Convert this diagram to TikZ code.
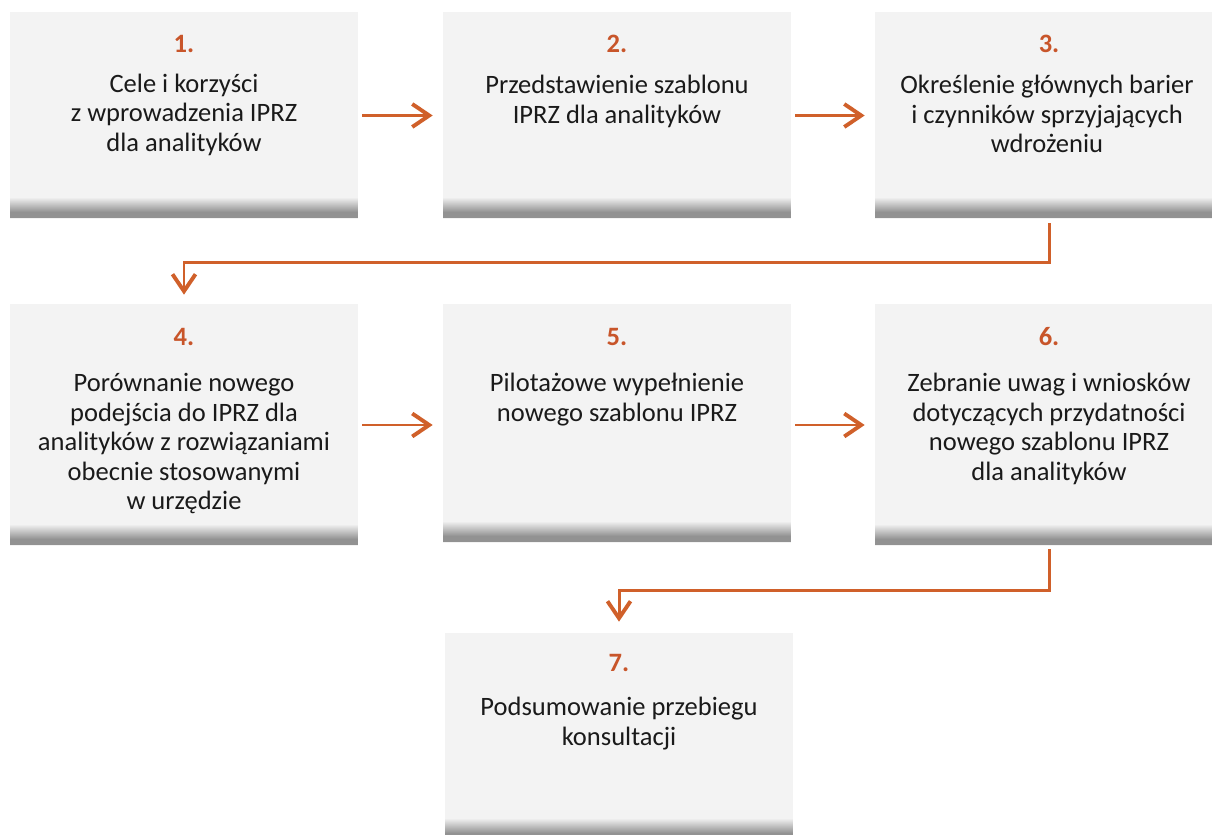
\documentclass[tikz,border=0pt]{standalone}
\usepackage{fontspec}
\setmainfont{Carlito}
\usetikzlibrary{arrows.meta}
\definecolor{boxbg}{HTML}{F3F3F3}
\definecolor{shadowgray}{HTML}{929292}
\definecolor{accent}{HTML}{D0602A}
\definecolor{numcol}{HTML}{C8552A}
\definecolor{txt}{HTML}{1A1A1A}
\begin{document}
\begin{tikzpicture}[x=0.02cm,y=-0.02cm,
  stepbox/.style={rectangle, fill=boxbg, inner sep=0pt, minimum width=6.96cm,
    path picture={
      \foreach \i in {0,...,13}{
        \pgfmathsetmacro{\pct}{100*(\i+1)/15}
        \fill[shadowgray!\pct!boxbg]
          ([yshift=0.42cm-\i*0.02cm]path picture bounding box.south west) rectangle
          ([yshift=0.40cm-\i*0.02cm]path picture bounding box.south east);
      }
      \fill[shadowgray]
        ([yshift=0.1401cm]path picture bounding box.south west) rectangle
        ([yshift=0.02cm]path picture bounding box.south east);
    }},
  numlabel/.style={anchor=base, inner sep=0pt, text=numcol,
    font=\fontsize{15.1}{16.8}\selectfont\bfseries},
  bodytext/.style={anchor=north, align=center, inner sep=0pt, text=txt,
    font=\fontsize{15.1}{16.8}\selectfont},
  arr/.style={draw=accent, line width=1.7pt,
    -{Straight Barb[length=0.34cm, width=0.46cm, line width=2.2pt]}}
]
\useasboundingbox (0,0) rectangle (1212,834);
\fill[white] (0,0) rectangle (1212,834);

% boxes
\node[stepbox, minimum height=4.14cm] (b1) at (184,115.5) {};
\node[stepbox, minimum height=4.14cm] (b2) at (617,115.5) {};
\node[stepbox, minimum height=4.14cm] (b3) at (1049,115.5) {};
\node[stepbox, minimum height=4.84cm] (b4) at (184,425) {};
\node[stepbox, minimum height=4.78cm] (b5) at (617,423.5) {};
\node[stepbox, minimum height=4.84cm] (b6) at (1049,425) {};
\node[stepbox, minimum height=4.14cm] (b7) at (619,736.5) {};

% numbers
\node[numlabel] (n1) at (184,53) {1.};
\node[numlabel] (n2) at (617,53) {2.};
\node[numlabel] (n3) at (1049,53) {3.};
\node[numlabel] (n4) at (184,345) {4.};
\node[numlabel] (n5) at (617,345) {5.};
\node[numlabel] (n6) at (1049,345) {6.};
\node[numlabel] (n7) at (619,671) {7.};

% texts
\node[bodytext] (t1) at (184,73.5) {Cele i korzyści\\z wprowadzenia IPRZ\\dla analityków};
\node[bodytext] (t2) at (617,75) {Przedstawienie szablonu\\IPRZ dla analityków};
\node[bodytext] (t3) at (1047,75) {Określenie głównych barier\\i czynników sprzyjających\\wdrożeniu};
\node[bodytext] (t4) at (184,373) {Porównanie nowego\\podejścia do IPRZ dla\\analityków z rozwiązaniami\\obecnie stosowanymi\\w urzędzie};
\node[bodytext] (t5) at (617,373) {Pilotażowe wypełnienie\\nowego szablonu IPRZ};
\node[bodytext] (t6) at (1049,373) {Zebranie uwag i wniosków\\dotyczących przydatności\\nowego szablonu IPRZ\\dla analityków};
\node[bodytext] (t7) at (619,697) {Podsumowanie przebiegu\\konsultacji};

% connectors
\draw[arr] ([xshift=0.08cm]b1.east) -- ([xshift=-0.2cm]b2.west);
\draw[arr] ([xshift=0.08cm]b2.east) -- ([xshift=-0.2cm]b3.west);
\draw[arr] ([xshift=0.08cm]b4.east) -- ([xshift=-0.2cm]b5.west |- b4.east);
\draw[arr] ([xshift=0.08cm]b5.east |- b4.east) -- ([xshift=-0.2cm]b6.west);
\draw[arr] ([yshift=-0.08cm]b3.south) -- ++(0,39) -| ([yshift=0.18cm]b4.north);
\draw[arr] ([yshift=-0.06cm]b6.south) -- ++(0,41) -| ([yshift=0.22cm]b7.north);
\end{tikzpicture}
\end{document}
